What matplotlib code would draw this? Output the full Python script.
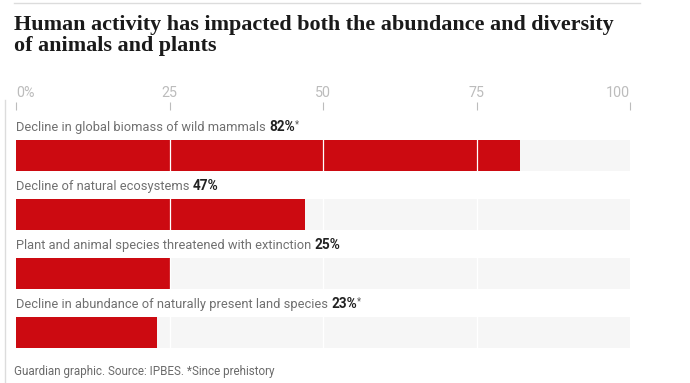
import matplotlib
matplotlib.use("Agg")
import matplotlib.pyplot as plt
from matplotlib.lines import Line2D

# ---- data ----
labels = [
    "Decline in global biomass of wild mammals",
    "Decline of natural ecosystems",
    "Plant and animal species threatened with extinction",
    "Decline in abundance of naturally present land species",
]
values = [82, 47, 25, 23]
value_notes = ["*", "", "", "*"]
tick_values = [0, 25, 50, 75, 100]
tick_labels = ["0%", "25", "50", "75", "100"]
title_lines = ["Human activity has impacted both the abundance and diversity",
               "of animals and plants"]
footer = "Guardian graphic. Source: IPBES. *Since prehistory"

RED = "#cc0a11"
BG = "#f6f6f6"
LABEL_GREY = "#707070"
DARK = "#222222"
TICK_GREY = "#bcbcbc"
LINE_GREY = "#dcdcdc"

W, H = 690, 383
fig = plt.figure(figsize=(W / 100, H / 100), dpi=100)

def fx(px):
    return px / W

def fy(py):
    return 1 - py / H

PT = 0.72  # points per pixel at 100 dpi

# axes geometry (pixels)
x0, x1 = 16, 630.3
top = 140
step = 59
bar_h = 31
n = len(values)
bottom = top + step * (n - 1) + bar_h
ax = fig.add_axes([fx(x0), fy(bottom), fx(x1) - fx(x0), (bottom - top) / H])
h = bar_h / step
ax.set_xlim(0, 100)
ax.set_ylim(n - 1 + h / 2, -h / 2)
ypos = list(range(n))
ax.barh(ypos, [100] * n, height=h, color=BG, zorder=1)
ax.barh(ypos, values, height=h, color=RED, zorder=2)
for t in tick_values[1:-1]:
    ax.axvline(t, color="white", lw=0.9, zorder=3)

for s in ["left", "right", "bottom"]:
    ax.spines[s].set_visible(False)
ax.spines["top"].set_color("none")
ax.spines["top"].set_position(("outward", 29.5 * PT))
ax.xaxis.tick_top()
ax.set_xticks(tick_values)
ax.set_xticklabels(tick_labels)
ax.tick_params(axis="x", direction="out", length=8 * PT, width=0.8, color=TICK_GREY,
               labelcolor=TICK_GREY, labelsize=10.3, pad=1.5)
for lab in ax.get_xticklabels():
    lab.set_fontfamily("Roboto")
    lab.set_fontweight("normal")
xl = ax.get_xticklabels()
xl[0].set_horizontalalignment("left")
xl[-1].set_horizontalalignment("right")
ax.set_yticks([])

# title
for k, (line, base) in enumerate(zip(title_lines, [30, 51.5])):
    fig.text(fx(14), fy(base), line, fontsize=15.95, fontweight="bold",
             family="Liberation Serif", color="#1a1a1a", va="baseline")

# top rule and left rule
fig.add_artist(Line2D([fx(14), fx(640)], [fy(3), fy(3)], color=LINE_GREY, lw=1))
fig.add_artist(Line2D([fx(4.5), fx(4.5)], [fy(100), fy(383)], color=LINE_GREY, lw=1))

# labels above bars
fig.canvas.draw()
renderer = fig.canvas.get_renderer()
LABEL_FS = 9.25
for i, (lab, v, note) in enumerate(zip(labels, values, value_notes)):
    base_py = top + i * step - 9
    t1 = fig.text(fx(16), fy(base_py), lab + " ", fontsize=LABEL_FS, family="Roboto",
                  color=LABEL_GREY, va="baseline")
    bb = t1.get_window_extent(renderer)
    t2 = fig.text(bb.x1 / W, fy(base_py), f"{v}%", fontsize=9.8, family="Roboto",
                  fontweight="bold", color=DARK, va="baseline")
    if note:
        bb2 = t2.get_window_extent(renderer)
        fig.text(bb2.x1 / W, fy(base_py - 4), note, fontsize=7, family="Roboto",
                 color="#555555", va="baseline")

fig.text(fx(14), fy(375), footer, fontsize=8.4, family="Roboto", color="#6a6a6a",
         va="baseline")

fig.savefig("out.png", dpi=100)
